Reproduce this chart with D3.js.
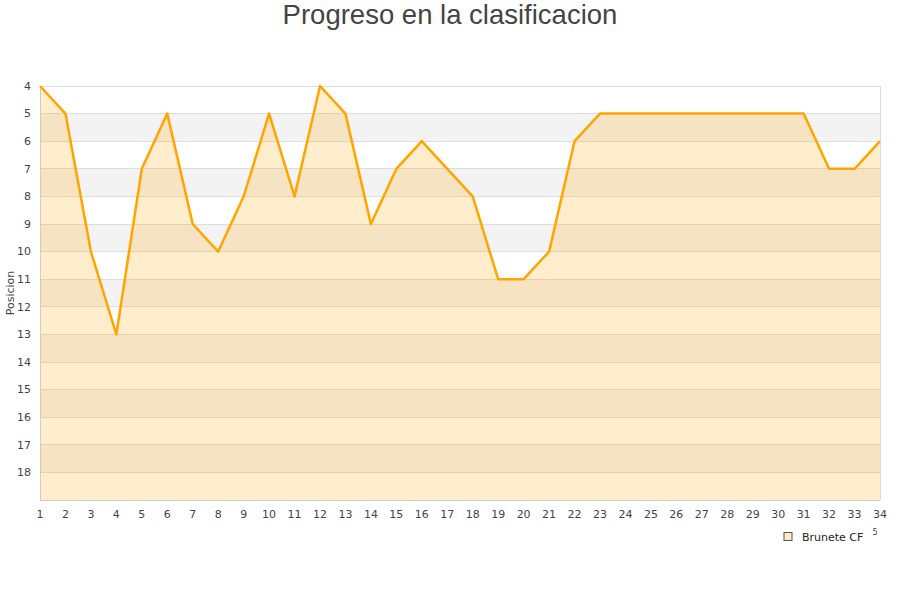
<!DOCTYPE html>
<html><head><meta charset="utf-8">
<script src="https://cdn.jsdelivr.net/npm/d3@7"></script>
<style>body{margin:0;background:#fff;font-family:"DejaVu Sans",sans-serif}</style>
</head><body><svg id="c" width="900" height="600"></svg>
<script>
const jornadas = d3.range(1, 35);
const posiciones = [4,5,10,13,7,5,9,10,8,5,8,4,5,9,7,6,7,8,11,11,10,6,5,5,5,5,5,5,5,5,5,7,7,6];
const yTicks = d3.range(4, 19);
const titulo = "Progreso en la clasificacion";
const serie = "Brunete CF";

const svg = d3.select("#c");
const m = {l:40, r:880, t:86, b:500};
const x = d3.scaleLinear().domain([1,34]).range([m.l, m.r]);
const y = d3.scaleLinear().domain([4,19]).range([m.t, m.b]);

// bands
const bands = d3.range(4, 19);
svg.append("g").selectAll("rect").data(bands).join("rect")
  .attr("x", m.l).attr("width", m.r - m.l)
  .attr("y", d => y(d)).attr("height", d => y(d+1) - y(d))
  .attr("fill", d => (d % 2 === 1) ? "#f3f3f3" : "#ffffff");

// grid
svg.append("g").selectAll("line").data(yTicks).join("line")
  .attr("x1", m.l).attr("x2", m.r)
  .attr("y1", d => y(d)).attr("y2", d => y(d))
  .attr("stroke", "#dddddd").attr("stroke-width", 1).attr("shape-rendering","crispEdges");

const data = jornadas.map((j,i)=>({j, p: posiciones[i]}));
svg.append("path").datum(data)
  .attr("d", d3.area().x(d=>x(d.j)).y0(y(19)).y1(d=>y(d.p)))
  .attr("fill", "rgba(255,165,0,0.2)");

// axes frame
svg.append("line").attr("x1",m.l).attr("x2",m.l).attr("y1",m.t).attr("y2",m.b).attr("stroke","#cccccc").attr("shape-rendering","crispEdges");
svg.append("line").attr("x1",m.r).attr("x2",m.r).attr("y1",m.t).attr("y2",m.b).attr("stroke","#dddddd").attr("shape-rendering","crispEdges");
svg.append("line").attr("x1",m.l).attr("x2",m.r).attr("y1",m.b).attr("y2",m.b).attr("stroke","#cccccc").attr("shape-rendering","crispEdges");

svg.append("path").datum(data)
  .attr("d", d3.line().x(d=>x(d.j)).y(d=>y(d.p)))
  .attr("fill","none").attr("stroke","#ffa500").attr("stroke-width",2.5).attr("stroke-linejoin","round");

// y ticks
svg.append("g").selectAll("text").data(yTicks).join("text")
  .attr("x", 31).attr("y", d => y(d)).attr("dy","0.35em")
  .attr("text-anchor","end").attr("font-size",11).attr("fill","#444")
  .text(d=>d);
// x ticks
svg.append("g").selectAll("text").data(jornadas).join("text")
  .attr("x", d=>x(d)).attr("y", 514).attr("dy","0.35em")
  .attr("text-anchor","middle").attr("font-size",11).attr("fill","#444")
  .text(d=>d);

svg.append("text").attr("transform","translate(14,293) rotate(-90)")
  .attr("text-anchor","middle").attr("font-size",11).attr("fill","#444").text("Posicion");

svg.append("text").attr("x",450).attr("y",24).attr("text-anchor","middle")
  .attr("font-family","'Liberation Sans', Arial, sans-serif")
  .attr("font-size",27.5).attr("fill","#444").text(titulo);

// legend
svg.append("rect").attr("x",784).attr("y",532.5).attr("width",8).attr("height",8)
  .attr("fill","#fde9c4").attr("stroke","#555").attr("stroke-width",1);
svg.append("text").attr("x",802).attr("y",537).attr("dy","0.35em")
  .attr("font-size",11).attr("fill","#222").text(serie);
svg.append("text").attr("x",875).attr("y",532).attr("dy","0.35em")
  .attr("font-size",8).attr("fill","#444").attr("text-anchor","middle").text("5");
</script></body></html>
